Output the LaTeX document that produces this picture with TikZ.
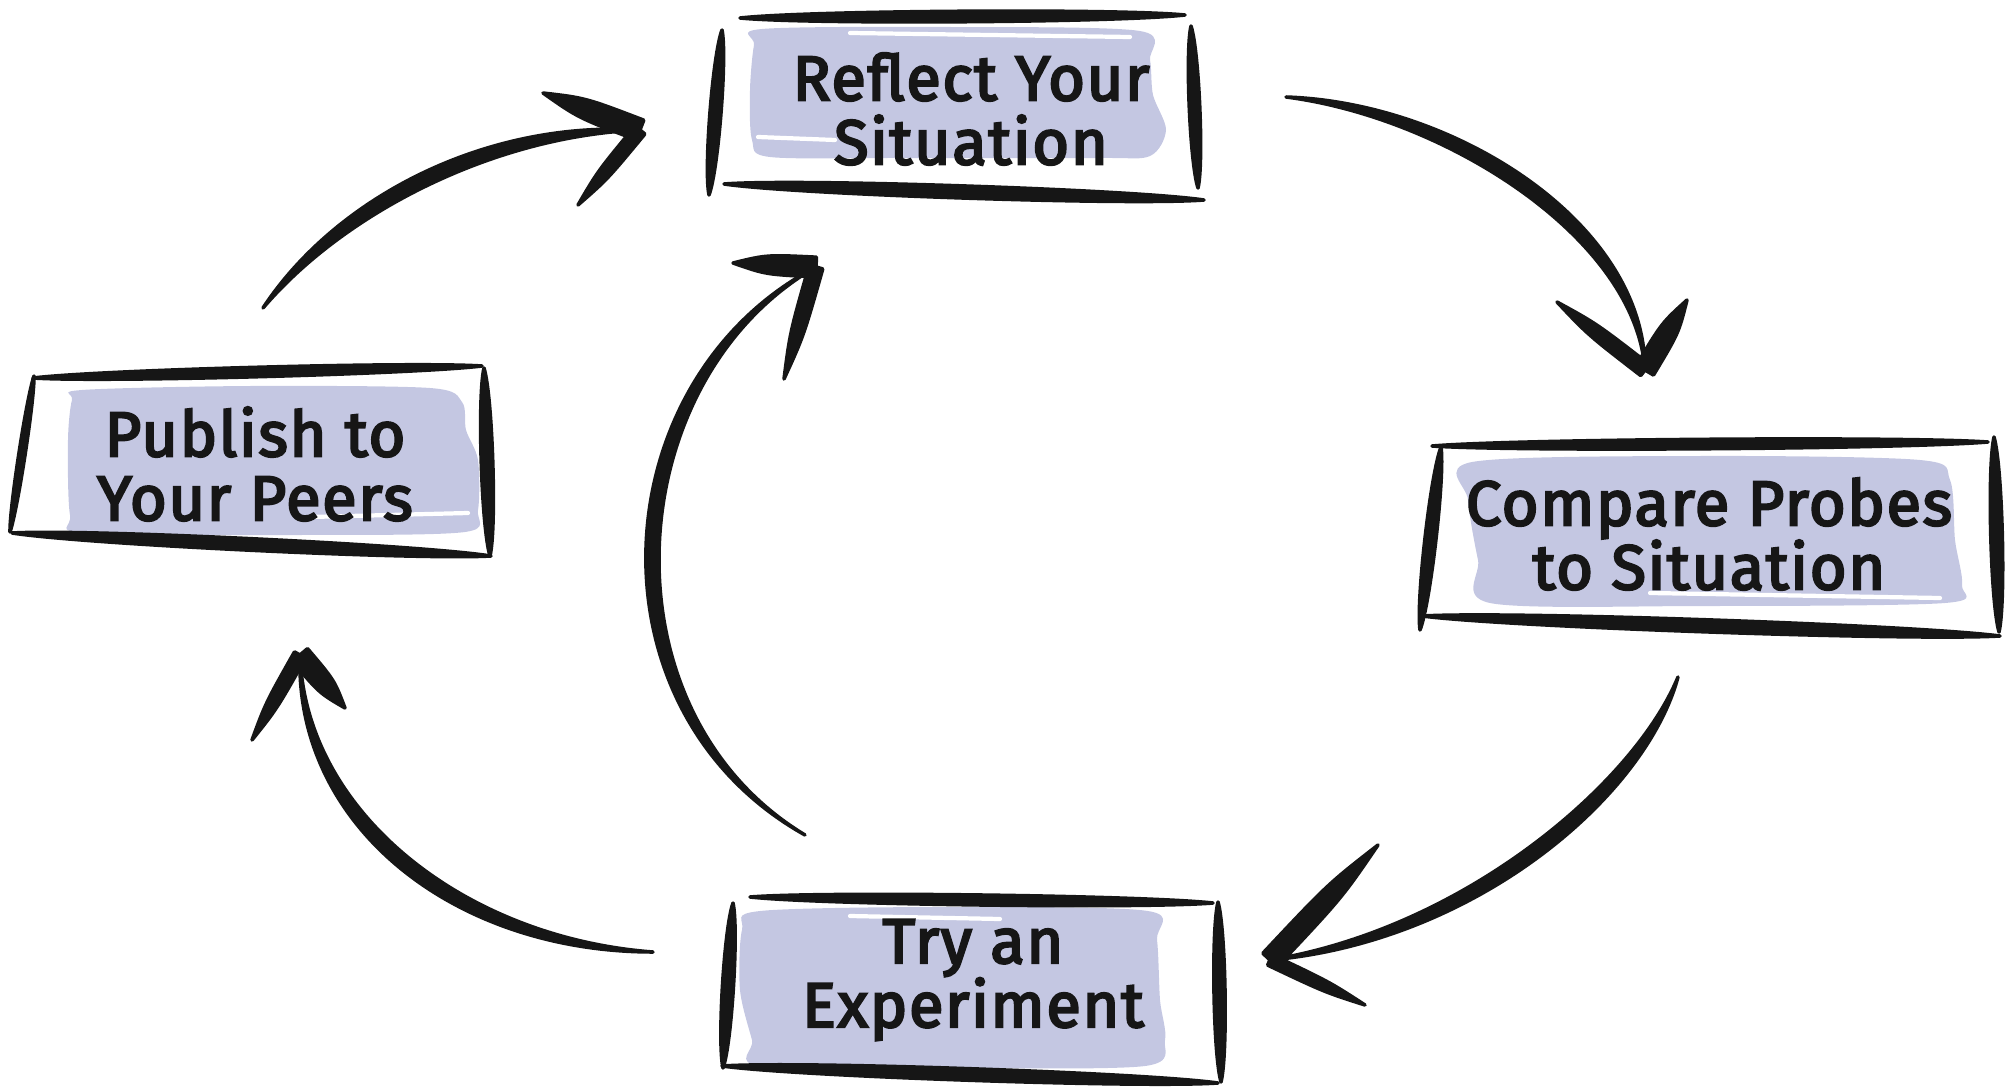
\documentclass[tikz,border=0pt]{standalone}
\usepackage{fontspec}
\newfontfamily\labelfont[FakeBold=3.5,LetterSpace=2.5]{Fira Sans}
\usetikzlibrary{calc}
\definecolor{blob}{RGB}{196,199,226}
\definecolor{ink}{RGB}{22,22,22}
\tikzset{
  inkfill/.style={fill=ink, draw=ink, line width=1pt, line join=round, line cap=round},
  blobfill/.style={fill=blob},
  streak/.style={draw=white, line width=1.2pt, line cap=round},
  boxlabel/.style={align=center, font=\labelfont\fontsize{18}{18.2}\selectfont, text=ink, inner sep=0pt},
}
% straight brush stroke between two points, #3 = half thickness
\newcommand\brushline[3]{\path[inkfill] (#1) .. controls ($(#1)!0.15!(#2)!#3!90:(#2)$) and ($(#1)!0.85!(#2)!#3!90:(#2)$) .. (#2) .. controls ($(#1)!0.85!(#2)!#3!-90:(#2)$) and ($(#1)!0.15!(#2)!#3!-90:(#2)$) .. (#1) -- cycle;}
% arrow barb: thick at #1 (tip), tapering to #2
\newcommand\brushwedge[3]{\path[inkfill] ($(#1)!#3!90:(#2)$) .. controls ($(#1)!0.6!(#2)!#3!90:(#2)$) .. (#2) .. controls ($(#1)!0.6!(#2)!#3!-90:(#2)$) .. ($(#1)!#3!-90:(#2)$) -- cycle;}
% curved brush stroke: start, control 1, control 2, end, half thickness
\newcommand\brushcurve[5]{\path[inkfill] (#1) .. controls ($(#2)!#5!90:(#3)$) and ($(#3)!#5!-90:(#2)$) .. (#4) .. controls ($(#3)!#5!90:(#2)$) and ($(#2)!#5!-90:(#3)$) .. (#1) -- cycle;}
\begin{document}
\begin{tikzpicture}[x=0.01cm,y=-0.01cm]
\useasboundingbox (0,0) rectangle (2009,1091);

% ---------- blobs ----------
\fill[blobfill] plot[smooth cycle, tension=0.5] coordinates {(762,29) (950,27) (1140,31) (1150,60) (1153,95) (1166,130) (1150,156) (1100,158) (900,158) (770,157) (752,140) (750,90) (754,45)};
\fill[blobfill] plot[smooth cycle, tension=0.5] coordinates {(82,390) (250,386) (430,388) (462,402) (466,430) (478,460) (478,510) (465,532) (300,535) (85,533) (70,515) (68,440) (72,400)};
\fill[blobfill] plot[smooth cycle, tension=0.5] coordinates {(1472,462) (1700,456) (1920,460) (1950,480) (1955,540) (1962,585) (1945,603) (1700,606) (1490,603) (1478,560) (1468,500)};
\fill[blobfill] plot[smooth cycle, tension=0.5] coordinates {(760,911) (950,907) (1148,911) (1157,940) (1160,1000) (1165,1040) (1145,1066) (950,1068) (760,1066) (752,1040) (740,990) (742,930)};

% faint white brush streaks
\draw[streak] (850,33) -- (1130,37);
\draw[streak] (758,137) -- (835,140);
\draw[streak] (310,517) -- (468,513);
\draw[streak] (1650,593) -- (1940,598);
\draw[streak] (850,916) -- (1000,919);

% ---------- labels ----------
\node[boxlabel] (reflect)    at (971,109)  {Reflect Your\\Situation};
\node[boxlabel] (publish)    at (255,464)  {Publish to\\Your Peers};
\node[boxlabel] (compare)    at (1709,534) {Compare Probes\\to Situation};
\node[boxlabel] (experiment) at (973,980)  {Try an\\Experiment};

% ---------- sketchy frames ----------
% Reflect Your Situation
\brushline{740,18}{1185,15}{2.0pt}
\brushline{722,30}{709,195}{2.1pt}
\brushline{1191,26}{1198,188}{2.0pt}
\brushline{724,184}{1204,200}{2.3pt}
% Publish to Your Peers
\brushline{33,378}{482,366}{1.8pt}
\brushline{484,368}{490,556}{2.2pt}
\brushline{12,533}{491,556}{2.2pt}
\brushline{34,376}{10,532}{1.2pt}
% Compare Probes to Situation
\brushline{1432,446}{1988,442}{1.8pt}
\brushline{1994,437}{1999,632}{2.2pt}
\brushline{1422,616}{2000,636}{2.3pt}
\brushline{1441,447}{1420,630}{2.1pt}
% Try an Experiment
\brushline{750,897}{1213,903}{1.9pt}
\brushline{733,903}{723,1068}{2.1pt}
\brushline{1218,902}{1221,1082}{2.1pt}
\brushline{722,1066}{1218,1083}{2.2pt}

% ---------- arrows ----------
\coordinate (a1s) at (263,308);  \coordinate (a1e) at (640,130);
\coordinate (a1u) at (543,93);   \coordinate (a1l) at (578,205);
\coordinate (a2s) at (1286,97);  \coordinate (a2e) at (1645,370);
\coordinate (a2l) at (1557,302); \coordinate (a2r) at (1687,300);
\coordinate (a3s) at (1678,677); \coordinate (a3e) at (1270,960);
\coordinate (a3u) at (1378,845); \coordinate (a3l) at (1365,1005);
\coordinate (a4s) at (653,952);  \coordinate (a4e) at (300,655);
\coordinate (a4l) at (252,740);  \coordinate (a4r) at (345,708);
\coordinate (a5s) at (805,835);  \coordinate (a5e) at (816,267);
\coordinate (a5u) at (733,263);  \coordinate (a5l) at (784,379);

% Publish -> Reflect
\brushcurve{a1s}{340,205}{490,128}{a1e}{2.5pt}
\brushwedge{a1e}{a1u}{3.0pt}
\brushwedge{a1e}{a1l}{1.8pt}
% Reflect -> Compare
\brushcurve{a2s}{1450,110}{1640,230}{a2e}{2.5pt}
\brushwedge{a2e}{a2l}{2.0pt}
\brushwedge{a2e}{a2r}{2.8pt}
% Compare -> Experiment
\brushcurve{a3s}{1640,790}{1470,935}{a3e}{2.5pt}
\brushwedge{a3e}{a3u}{2.8pt}
\brushwedge{a3e}{a3l}{1.6pt}
% Experiment -> Publish
\brushcurve{a4s}{460,945}{300,820}{a4e}{2.5pt}
\brushwedge{a4e}{a4l}{1.8pt}
\brushwedge{a4e}{a4r}{2.8pt}
% Experiment -> Reflect (inner)
\brushcurve{a5s}{590,710}{610,380}{a5e}{2.5pt}
\brushwedge{a5e}{a5u}{2.8pt}
\brushwedge{a5e}{a5l}{2.0pt}
\end{tikzpicture}
\end{document}
